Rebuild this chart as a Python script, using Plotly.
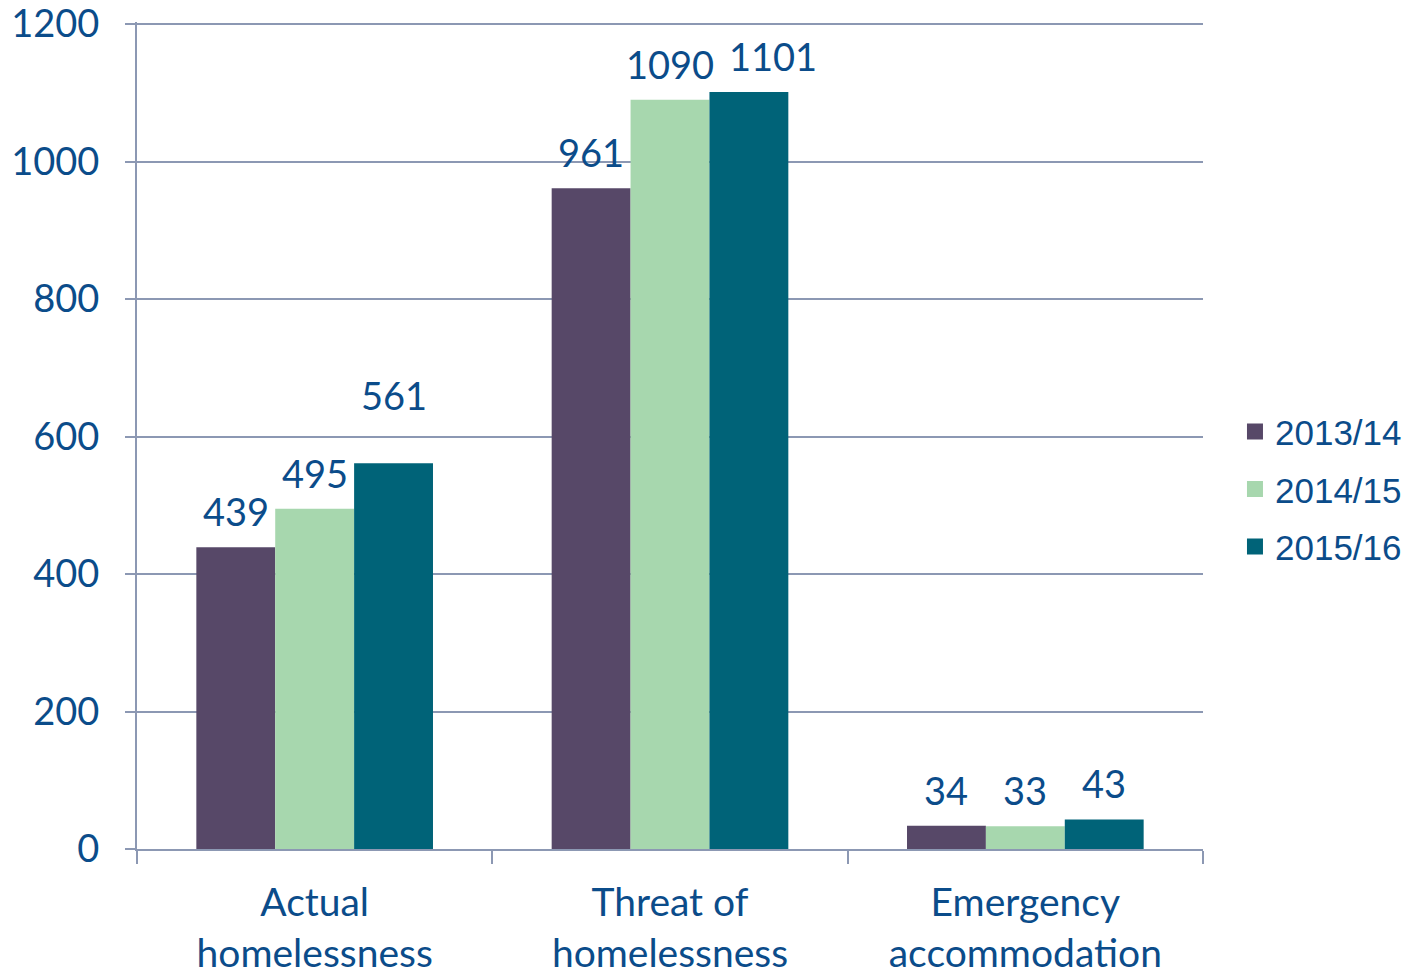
import plotly.graph_objects as go

categories = ["Actual<br>homelessness", "Threat of<br>homelessness", "Emergency<br>accommodation"]
series_names = ["2013/14", "2014/15", "2015/16"]
values_2013 = [439, 961, 34]
values_2014 = [495, 1090, 33]
values_2015 = [561, 1101, 43]
y_ticks = [0, 200, 400, 600, 800, 1000, 1200]

series_values = [values_2013, values_2014, values_2015]
colors = ["#574868", "#A7D7AE", "#006378"]
TEXT = "#0B4C8A"
GRID = "#8C98B3"
LATO = "Lato, 'Open Sans', sans-serif"

# pixel offsets of each series within a group, and per-label nudges (style only)
series_px = [-79, 0, 79]
label_nudge = {(0, 2): (0, 32), (1, 2): (24, 0)}

fig = go.Figure()
for i, (name, vals) in enumerate(zip(series_names, series_values)):
    fig.add_trace(go.Bar(
        x=categories, y=vals, name=name, marker=dict(color=colors[i], line=dict(width=0)),
        showlegend=False,
    ))
    fig.add_trace(go.Scatter(
        x=[None], y=[None], mode="markers", name=name, legendgroup=name,
        marker=dict(symbol="square", size=16, color=colors[i]),
    ))

annotations = []
for i, vals in enumerate(series_values):
    for j, v in enumerate(vals):
        dx, dy = label_nudge.get((j, i), (0, 0))
        annotations.append(dict(
            x=categories[j], y=v, xref="x", yref="y", text=str(v), showarrow=False,
            xshift=series_px[i] + dx, yshift=36 + dy, yanchor="middle",
            font=dict(family=LATO, size=38, color=TEXT),
        ))

fig.update_layout(
    width=1425, height=973,
    margin=dict(l=137, r=222, t=22, b=124),
    paper_bgcolor="white", plot_bgcolor="white",
    barmode="group", bargap=0.334, bargroupgap=0,
    annotations=annotations,
    legend=dict(
        x=1.03, y=0.435, xanchor="left", yanchor="middle",
        font=dict(family="'Liberation Sans', Arial, sans-serif", size=35, color=TEXT),
        tracegroupgap=9, traceorder="grouped", bgcolor="rgba(0,0,0,0)",
    ),
    xaxis=dict(
        type="category", tickson="boundaries", ticks="outside", ticklen=13, tickwidth=2,
        tickcolor=GRID, showgrid=False, showline=True, linecolor=GRID, linewidth=2,
        tickfont=dict(family=LATO, size=39, color=TEXT), fixedrange=True,
        automargin=False, ticklabelstandoff=18,
    ),
    yaxis=dict(
        range=[0, 1203], tickvals=y_ticks, ticks="outside", ticklen=10, tickwidth=2,
        tickcolor=GRID, showgrid=True, gridcolor=GRID, gridwidth=2,
        showline=True, linecolor=GRID, linewidth=2, zeroline=False,
        tickfont=dict(family=LATO, size=38, color=TEXT), ticklabelstandoff=18,
        automargin=False, ticklabeloverflow="allow",
    ),
)

fig.write_html("out.html")
